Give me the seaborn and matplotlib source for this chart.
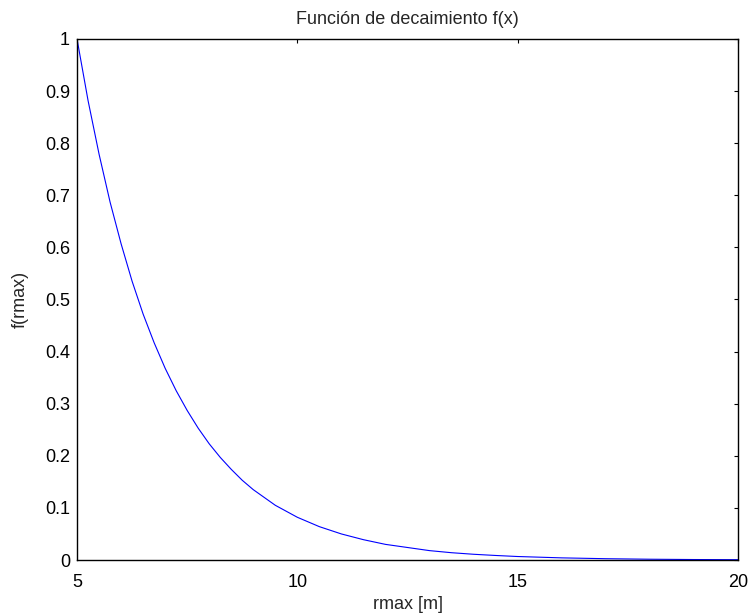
import numpy as np
import pandas as pd
import matplotlib
matplotlib.use("Agg")
import matplotlib.pyplot as plt
import seaborn as sns

# valores
rmax = [5.0, 5.25, 5.5, 5.75, 6.0, 6.25, 6.5, 6.75, 7.0, 7.25, 7.5, 7.75,
        8.0, 8.25, 8.5, 8.75, 9.0, 9.5, 10.0, 10.5, 11.0, 11.5, 12.0, 12.5,
        13.0, 13.5, 14.0, 14.5, 15.0, 16.0, 17.0, 18.0, 19.0, 20.0]
f_rmax = [1.000, 0.882, 0.779, 0.687, 0.607, 0.535, 0.472, 0.417, 0.368,
          0.325, 0.287, 0.253, 0.223, 0.197, 0.174, 0.153, 0.135, 0.105,
          0.082, 0.064, 0.050, 0.039, 0.030, 0.024, 0.018, 0.014, 0.011,
          0.0087, 0.0067, 0.0041, 0.0025, 0.0015, 0.0009, 0.0006]

x_ticks = [5, 10, 15, 20]
y_ticks = [0, 0.1, 0.2, 0.3, 0.4, 0.5, 0.6, 0.7, 0.8, 0.9, 1]
y_labels = ["0", "0.1", "0.2", "0.3", "0.4", "0.5", "0.6", "0.7", "0.8", "0.9", "1"]

df = pd.DataFrame({"rmax": rmax, "f": f_rmax})

sns.set_style("white")
plt.rcParams["font.family"] = ["Liberation Sans", "DejaVu Sans"]

fig = plt.figure(figsize=(7.5, 6.16), dpi=100)
ax = fig.add_axes([0.1027, 0.0909, 0.8813, 0.8458])

sns.lineplot(data=df, x="rmax", y="f", ax=ax, color="#0000ff", linewidth=0.8)

ax.set_xlim(5, 20)
ax.set_ylim(0, 1)
ax.set_xticks(x_ticks)
ax.set_xticklabels([str(t) for t in x_ticks])
ax.set_yticks(y_ticks)
ax.set_yticklabels(y_labels)
ax.tick_params(direction="in", length=3, width=0.8, top=True, right=True,
               labelsize=13, colors="black")
ax.tick_params(axis="x", pad=10)
ax.tick_params(axis="y", pad=5)
for s in ax.spines.values():
    s.set_color("black")
    s.set_linewidth(1.0)

ax.set_xlabel("rmax [m]", fontsize=13, labelpad=4)
ax.set_ylabel("f(rmax)", fontsize=13, labelpad=12)
ax.set_title("Función de decaimiento f(x)", fontsize=13, pad=11)

fig.savefig("out.png", dpi=100)
